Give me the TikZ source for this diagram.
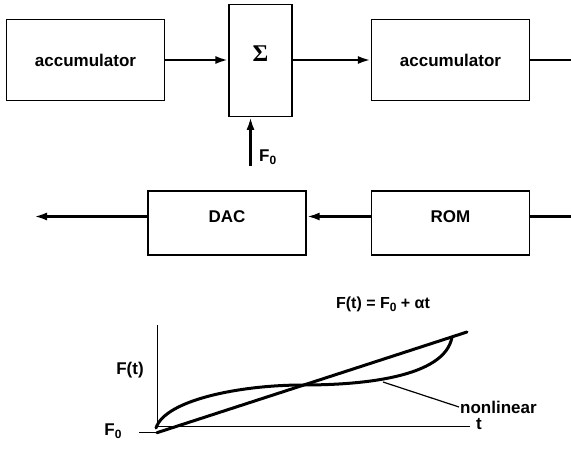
\documentclass[tikz,border=0pt]{standalone}
\usepackage{fontspec}
\setmainfont{Liberation Sans}
\newfontfamily\sigfont{Liberation Serif}
\usetikzlibrary{arrows.meta, calc, positioning}
\newcommand{\lowsub}[1]{\raisebox{-3pt}{\fontsize{12}{12}\selectfont\bfseries #1}}

\begin{document}
\begin{tikzpicture}[x=1pt, y=-1pt,
  blk/.style={draw, line width=1.2pt, minimum width=158pt, minimum height=81.5pt, inner sep=0pt,
              font=\fontsize{17}{19}\selectfont\bfseries},
  lowblk/.style={blk, minimum height=64pt, text height=12pt, text depth=14pt},
  arr/.style={-{Latex[length=13pt, width=8pt]}, line width=2.8pt},
  wire/.style={line width=2.8pt},
  axis/.style={line width=1pt},
  lab/.style={font=\fontsize{17}{19}\selectfont\bfseries, inner sep=1pt},
  curve/.style={line width=3pt, line cap=round}]
  \useasboundingbox (0,0) rectangle (571,471);
  \node[blk] (acc1) at (85.5,60) {accumulator};
  \node[blk, minimum width=63pt, minimum height=111.5pt, text height=14pt, text depth=12pt] (sum) at (260.5,60.5) {\fontsize{24}{26}\selectfont\sigfont\bfseries Σ};
  \node[blk] (acc2) at (450.5,60) {accumulator};
  \node[lowblk] (dac) at (227,223) {DAC};
  \node[lowblk] (rom) at (450.5,223) {ROM};
  \coordinate (outTop) at (571,60);
  \coordinate (outBot) at (571,216.5);
  \coordinate (dacOut) at (34,216.5);
  \coordinate (f0in) at (250.5,166);
  \draw[arr] (acc1.east) -- (acc1.east -| sum.west);
  \draw[arr] (sum.east |- acc2.west) -- (acc2.west);
  \draw[wire] (acc2.east) -- (outTop);
  \draw[wire] (outBot) -- (outBot -| rom.east);
  \draw[arr] (outBot -| rom.west) -- (outBot -| dac.east);
  \draw[arr] (outBot -| dac.west) -- (dacOut);
  \draw[arr] (f0in) -- (f0in |- sum.south);
  \node[lab, anchor=west] (f0) at (258,157) {F\lowsub{0}};
  % graph
  \coordinate (ytop) at (157,325);
  \coordinate (orig) at (157,426);
  \coordinate (xend) at (470,426);
  \coordinate (f0tick) at (139,432.7);
  \coordinate (f0pt) at (157,432.7);
  \coordinate (lend) at (467,332);
  \coordinate (nltip) at (383,382);
  \draw[axis] (ytop) -- (orig) -- (xend);
  \node[lab] (tlab) at (479,424) {t};
  \node[lab] (ftlab) at (130,370) {F(t)};
  \node[lab] (f0lab) at (113,431) {F\lowsub{0}};
  \draw[axis] (f0tick) -- (f0pt);
  \draw[curve] (f0pt) -- (lend);
  \draw[curve] (156,428) .. controls (165,400) and (240,385) .. (303,385)
                         .. controls (360,385) and (445,378) .. (452,337);
  \node[lab, anchor=west] (nl) at (459,407) {nonlinear};
  \draw[line width=1.2pt] (nltip) -- (nl.west);
  \node[lab, font=\fontsize{16}{18}\selectfont\bfseries] (eq) at (383,304) {F(t) = F\lowsub{0} + αt};
\end{tikzpicture}
\end{document}
